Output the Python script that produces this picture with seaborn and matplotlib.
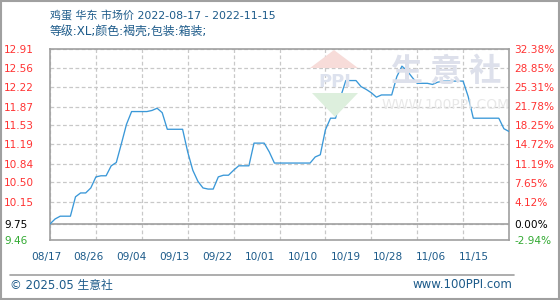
import matplotlib
matplotlib.use('Agg')
import matplotlib.pyplot as plt
import matplotlib.transforms as mtransforms
from matplotlib.patches import Polygon, Rectangle
from matplotlib.lines import Line2D
import seaborn as sns
import pandas as pd

# ---------------- data ----------------
title_text = "鸡蛋 华东 市场价 2022-08-17 - 2022-11-15"
subtitle_text = "等级:XL;颜色:褐壳;包装:箱装;"
footer_left = "© 2025.05 生意社"
footer_right = "www.100PPI.com"
watermark_cn = "生 意 社"
watermark_url = "WWW.100PPI.COM"

start_date = "2022-08-17"
prices = [
    9.75, 9.84, 9.89, 9.89, 9.89, 10.24, 10.31, 10.31, 10.40, 10.60,
    10.62, 10.62, 10.80, 10.86, 11.20, 11.55, 11.78, 11.78, 11.78, 11.78,
    11.80, 11.84, 11.76, 11.46, 11.46, 11.46, 11.46, 11.05, 10.72, 10.52,
    10.40, 10.38, 10.38, 10.60, 10.63, 10.63, 10.72, 10.80, 10.80, 10.80,
    11.21, 11.21, 11.21, 11.05, 10.85, 10.85, 10.85, 10.85, 10.85, 10.85,
    10.85, 10.85, 10.96, 11.00, 11.45, 11.66, 11.66, 12.05, 12.34, 12.34,
    12.34, 12.23, 12.18, 12.12, 12.04, 12.08, 12.08, 12.08, 12.41, 12.60,
    12.52, 12.40, 12.29, 12.29, 12.29, 12.27, 12.31, 12.33, 12.33, 12.33,
    12.33, 12.33, 12.05, 11.66, 11.66, 11.66, 11.66, 11.66, 11.66, 11.47,
    11.42,
]
base_price = 9.75
price_ticks = [9.46, 9.75, 10.15, 10.50, 10.84, 11.19, 11.53, 11.87, 12.22, 12.56, 12.91]
price_labels = ["9.46", "9.75", "10.15", "10.50", "10.84", "11.19", "11.53", "11.87", "12.22", "12.56", "12.91"]
pct_ticks = [-2.94, 0.00, 4.12, 7.65, 11.19, 14.72, 18.25, 21.78, 25.31, 28.85, 32.38]
pct_labels = ["-2.94%", "0.00%", "4.12%", "7.65%", "11.19%", "14.72%", "18.25%", "21.78%", "25.31%", "28.85%", "32.38%"]
x_labels = ["08/17", "08/26", "09/04", "09/13", "09/22", "10/01", "10/10", "10/19", "10/28", "11/06", "11/15"]

# ---------------- style ----------------
sns.set_theme(style="white")
plt.rcParams['font.family'] = ['DejaVu Sans', 'Noto Sans CJK SC']

W, H = 560, 300
fig = plt.figure(figsize=(W / 100, H / 100), dpi=100)
fig.patch.set_facecolor('white')

L, R, T, B = 50, 509, 49, 240
ax = fig.add_axes([L / W, 1 - B / H, (R - L) / W, (B - T) / H])
ax.set_facecolor('white')

dates = pd.date_range(start_date, periods=len(prices), freq='D')
df = pd.DataFrame({"date": dates, "price": prices})

axis_gray = '#a0a0a0'
grid_gray = '#c8c8c8'
title_blue = '#1d5b8a'
red = '#ff3333'
green = '#33aa33'


def fx(px):
    return px / W


def fy(py):
    return 1 - py / H


# watermark (behind the line)
fig.patches.append(Polygon([(fx(310), fy(68)), (fx(358), fy(68)), (fx(334), fy(50))],
                           closed=True, transform=fig.transFigure, fc='#f7dcd9', ec='none', zorder=0.5))
fig.patches.append(Polygon([(fx(312), fy(93)), (fx(358), fy(93)), (fx(335), fy(117))],
                           closed=True, transform=fig.transFigure, fc='#ddefdd', ec='none', zorder=0.5))
fig.text(fx(335), fy(81.5), "PPI", color='#dde2ee', fontsize=13, fontweight='bold',
         ha='center', va='center', zorder=0.6)
fig.text(fx(446), fy(72), watermark_cn, color='#dde0eb', fontsize=23, fontweight='bold',
         family=['Noto Sans CJK SC', 'DejaVu Sans'], ha='center', va='center', zorder=0.6)
fig.text(fx(446), fy(105), watermark_url, color='#e8e8e8', fontsize=10,
         ha='center', va='center', zorder=0.6)

ax.patch.set_alpha(0)

sns.lineplot(data=df, x="date", y="price", ax=ax, color='#3a98d8', linewidth=0.95, zorder=3)

ax.set_xlim(dates[0], dates[-1])
ax.set_ylim(price_ticks[0], price_ticks[-1])

# grid
ax.set_xticks(dates[::9])
ax.set_yticks(price_ticks)
ax.grid(True, color=grid_gray, linestyle=(0, (3, 2)), linewidth=0.9)
ax.axhline(base_price, color=axis_gray, linewidth=1.2, zorder=2)

for s in ax.spines.values():
    s.set_color(axis_gray)
    s.set_linewidth(1.2)

ax.set_xlabel("")
ax.set_ylabel("")
ax.tick_params(axis='both', length=0)
ax.set_xticklabels([])

# left price labels (left aligned near figure edge)
ax.set_yticklabels(price_labels)
ax.tick_params(axis='y', pad=33, labelsize=7.6)
for lab, v in zip(ax.get_yticklabels(), price_ticks):
    lab.set_horizontalalignment('left')
    if abs(v - base_price) < 1e-9:
        lab.set_color('black')
    elif v < base_price:
        lab.set_color(green)
    else:
        lab.set_color(red)

# right percent axis
ax2 = ax.twinx()
ax2.set_ylim(pct_ticks[0], pct_ticks[-1])
ax2.set_yticks(pct_ticks)
ax2.set_yticklabels(pct_labels)
ax2.tick_params(axis='y', length=0, pad=4, labelsize=7.6)
ax2.grid(False)
for s in ax2.spines.values():
    s.set_visible(False)
for lab, v in zip(ax2.get_yticklabels(), pct_ticks):
    if v == 0:
        lab.set_color('black')
    elif v < 0:
        lab.set_color(green)
    else:
        lab.set_color(red)

# x labels (source places them with a slightly narrower spacing than the grid)
blend = mtransforms.blended_transform_factory(ax.transAxes, fig.transFigure)
for i, lab in enumerate(x_labels):
    xa = (-4 + i * 42.8) / (R - L)
    ax.text(xa, fy(257), lab, transform=blend, ha='center', va='center',
            fontsize=7.6, color=title_blue, clip_on=False)

# titles
fig.text(fx(50), fy(15), title_text, color=title_blue, fontsize=7.9, ha='left', va='center')
fig.text(fx(50), fy(32), subtitle_text, color=title_blue, fontsize=8.6, ha='left', va='center')

# footer
fig.add_artist(Line2D([fx(10), fx(514)], [fy(275), fy(275)], transform=fig.transFigure,
                      color=axis_gray, linewidth=1.2))
fig.text(fx(10), fy(285), footer_left, color=title_blue, fontsize=8.5, ha='left', va='center')
fig.text(fx(512), fy(285), footer_right, color=title_blue, fontsize=8.5, ha='right', va='center')

# outer frame
fig.patches.append(Rectangle((0.001, 0.002), 0.997, 0.996, transform=fig.transFigure,
                             fill=False, ec=axis_gray, linewidth=1.5))

fig.savefig("out.png", dpi=100)
